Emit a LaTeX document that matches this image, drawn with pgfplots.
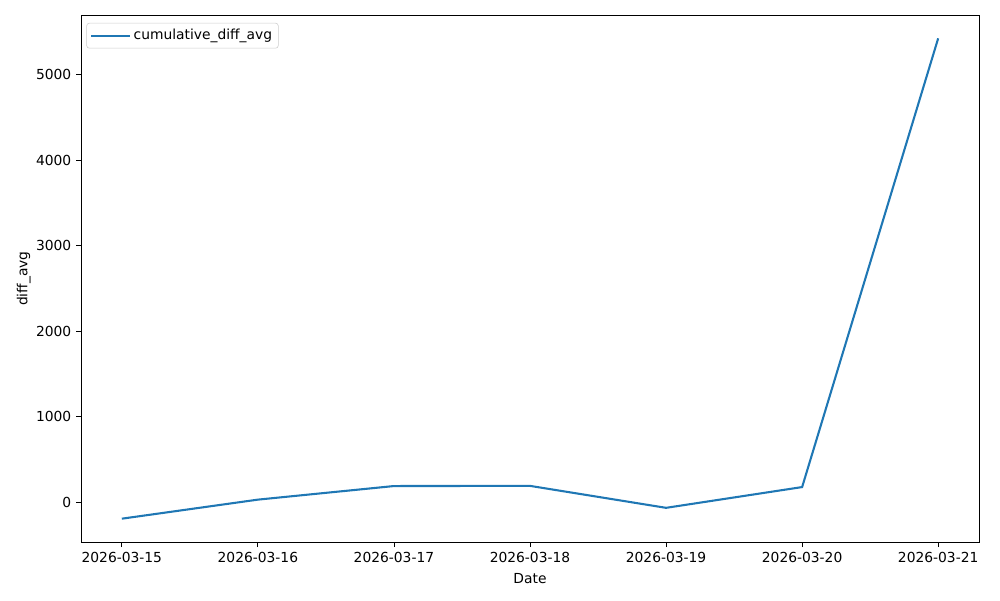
\documentclass[border=0pt]{standalone}
\usepackage{pgfplots}
\pgfplotsset{compat=1.18}
\usepackage{fontspec}
\setmainfont{DejaVu Sans}
\definecolor{tabblue}{HTML}{1F77B4}
\begin{document}
\begin{tikzpicture}
\begin{axis}[
  scale only axis,
  width=649pt, height=381pt,
  xmin=-0.3, xmax=6.3,
  ymin=-470, ymax=5700,
  xtick={0,1,2,3,4,5,6},
  xticklabels={2026-03-15,2026-03-16,2026-03-17,2026-03-18,2026-03-19,2026-03-20,2026-03-21},
  ytick={0,1000,2000,3000,4000,5000},
  scaled y ticks=false,
  /pgf/number format/assume math mode=true,
  /pgf/number format/1000 sep={},
  tick align=outside,
  major tick length=3.5pt,
  tick style={black, line width=0.6pt},
  axis line style={line width=0.6pt},
  tick pos=left,
  tick label style={font=\fontsize{10}{12}\selectfont},
  label style={font=\fontsize{10}{12}\selectfont},
  xlabel={Date},
  ylabel={diff\_avg},
  xlabel style={yshift=-1pt},
  ylabel style={yshift=-3pt},
  legend style={font=\fontsize{10}{12}\selectfont, draw=black!20, rounded corners=2pt, at={(0.006,0.985)}, anchor=north west, inner sep=2.5pt},
  legend cell align=left,
  legend image code/.code={\path (0pt,0pt) -- (28pt,0pt); \draw[#1] (0pt,0pt) -- (23pt,0pt);},
]
\addplot[tabblue, line width=1.5pt] coordinates {
  (0,-195) (1,28) (2,187) (3,189) (4,-68) (5,175) (6,5427)
};
\addlegendentry{cumulative\_diff\_avg}
\end{axis}
\path ([shift={(-58.54pt,-41.92pt)}]current axis.south west) rectangle ([shift={(15.18pt,10.84pt)}]current axis.north east);
\end{tikzpicture}
\end{document}
